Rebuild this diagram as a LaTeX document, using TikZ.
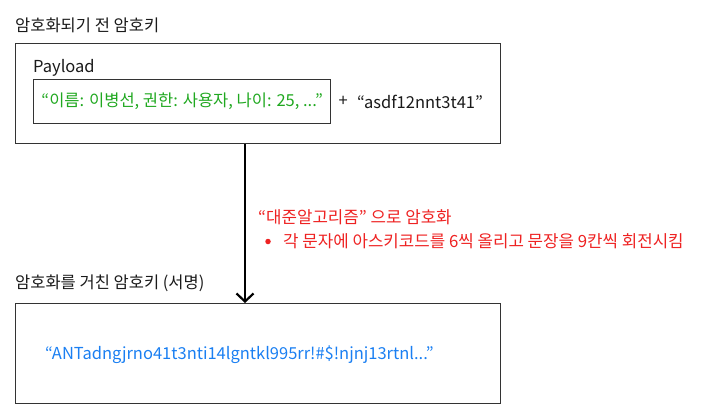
\documentclass[tikz,border=0pt]{standalone}
\usepackage{fontspec}
\setmainfont{Noto Sans CJK KR}
\usepackage{tikz}
\usetikzlibrary{arrows.meta,positioning,calc}
\definecolor{cText}{HTML}{1A1A1A}
\definecolor{cPay}{HTML}{20A820}
\definecolor{cSig}{HTML}{1A7FF2}
\definecolor{cNote}{HTML}{EE2222}
\definecolor{cLine}{HTML}{333333}
\tikzset{
  keybox/.style={draw=cLine, line width=1.3pt, minimum width=485pt, minimum height=100pt,
                 anchor=north west, inner sep=0pt},
  paybox/.style={draw=cLine, line width=1.3pt, minimum width=297pt, minimum height=44pt,
                 anchor=north west, inner sep=0pt, text=cPay},
  lbl/.style={font=\fontsize{16.5}{18}\selectfont, text=cText, anchor=west, inner sep=0pt},
  note/.style={lbl, text=cNote, font=\fontsize{16.8}{18}\selectfont},
  dot/.style={circle, fill=cNote, inner sep=0pt, minimum size=5.5pt},
  arr/.style={-{Straight Barb[length=8pt,width=17pt,line width=2.2pt]}, line width=2.4pt, black}
}
\begin{document}
\begin{tikzpicture}[x=1pt, y=-1pt, font=\fontsize{16.5}{18}\selectfont]
\useasboundingbox (0,0) rectangle (702,418);
% Before encryption
\node[lbl] (plainlbl) at (15,25) {암호화되기 전 암호키};
\node[keybox] (plain) at (15,43) {};
\node[lbl] (paylbl) at (33,68) {Payload};
\node[paybox] (payload) at (33,79) {“이름: 이병선, 권한: 사용자, 나이: 25, ...”};
\node[lbl, right=7pt of payload] (plus) {+};
\node[lbl, right=9pt of plus] (salt) {“asdf12nnt3t41”};
% After encryption
\node[lbl] (signlbl) at (15,283) {암호화를 거친 암호키 (서명)};
\node[keybox] (signed) at (15,303) {};
\node[lbl, text=cSig] (sig) at (45,355) {“ANTadngjrno41t3nti14lgntkl995rr!\#\$!njnj13rtnl...”};
% Arrow with algorithm note
\coordinate (from) at ($(plain.south west)+(230,0)$);
\coordinate (to) at ($(signed.north west)+(230,0)$);
\draw[arr] (from) -- (to);
\node[note] (algo) at (258,217) {“대준알고리즘” 으로 암호화};
\node[dot] (bullet) at (268,241.5) {};
\node[note] (step1) at (283,241) {각 문자에 아스키코드를 6씩 올리고 문장을 9칸씩 회전시킴};
\end{tikzpicture}
\end{document}
